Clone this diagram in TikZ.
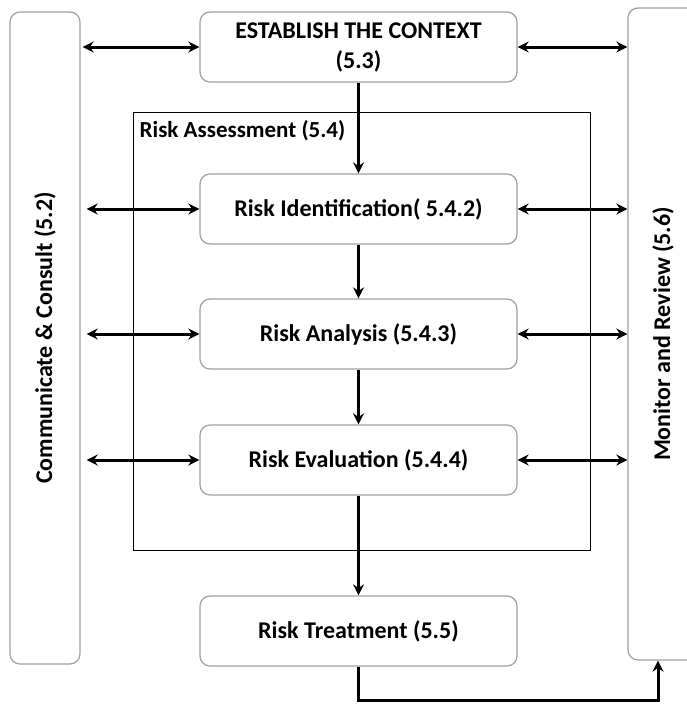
\documentclass[tikz,border=0pt]{standalone}
\usepackage{fontspec}
\setmainfont{Carlito}
\usetikzlibrary{positioning,arrows.meta}
\definecolor{frame-grey}{HTML}{A0A0A0}
\newlength{\basisriskframework}
\setlength{\basisriskframework}{1pt}

\begin{document}
\begin{tikzpicture}[x=1pt, y=-1pt,
    >={Stealth[length=11pt, width=11pt]},
    stagebox/.style={minimum height=70\basisriskframework, minimum width=317\basisriskframework, draw=frame-grey, line width=1.2\basisriskframework, rounded corners=10\basisriskframework, align=center, inner sep=0pt, font=\bfseries\fontsize{24}{30}\selectfont},
    sidebox/.style={rotate=90, minimum height=70\basisriskframework, minimum width=652\basisriskframework, draw=frame-grey, line width=1.2\basisriskframework, rounded corners=10\basisriskframework, inner sep=0pt, font=\bfseries\fontsize{24}{30}\selectfont},
    flow/.style={line width=3\basisriskframework}]
    \useasboundingbox (0,0) rectangle (687,704);

    \draw (361.5,331) node[minimum width=457\basisriskframework, minimum height=438\basisriskframework, draw, line width=1\basisriskframework] (risk-assessment) {};
    \node[anchor=north west, inner sep=0pt, font=\bfseries\fontsize{23}{28}\selectfont] (risk-assessment-label) at ([shift={(7,9)}]risk-assessment.north west) {Risk Assessment (5.4)};

    \draw (45,338) node[sidebox] (communicate-consult) {Communicate \& Consult (5.2)};
    \draw (663,334) node[sidebox] (monitor-review) {Monitor and Review (5.6)};

    \draw (358.5,47) node[stagebox] (establish-context) {ESTABLISH THE CONTEXT\\(5.3)};
    \draw (358.5,209) node[stagebox] (risk-identification) {Risk Identification( 5.4.2)};
    \draw (358.5,334) node[stagebox] (risk-analysis) {Risk Analysis (5.4.3)};
    \draw (358.5,460) node[stagebox] (risk-evaluation) {Risk Evaluation (5.4.4)};
    \draw (358.5,631) node[stagebox] (risk-treatment) {Risk Treatment (5.5)};

    \draw[flow, ->] (establish-context) -- (risk-identification);
    \draw[flow, ->] (risk-identification) -- (risk-analysis);
    \draw[flow, ->] (risk-analysis) -- (risk-evaluation);
    \draw[flow, ->] (risk-evaluation) -- (risk-treatment);
    \draw[flow, ->] (risk-treatment.south) -- ++(0,34) -| ([xshift=-5pt]monitor-review.west);

    \draw[flow, <->, shorten <=2pt] (communicate-consult.south |- establish-context.west) -- (establish-context.west);
    \draw[flow, <->] (establish-context.east) -- (monitor-review.north |- establish-context.east);
    \foreach \stage in {risk-identification, risk-analysis, risk-evaluation} {
        \draw[flow, <->, shorten <=6pt] (communicate-consult.south |- \stage.west) -- (\stage.west);
        \draw[flow, <->] (\stage.east) -- (monitor-review.north |- \stage.east);
    }
\end{tikzpicture}
\end{document}
